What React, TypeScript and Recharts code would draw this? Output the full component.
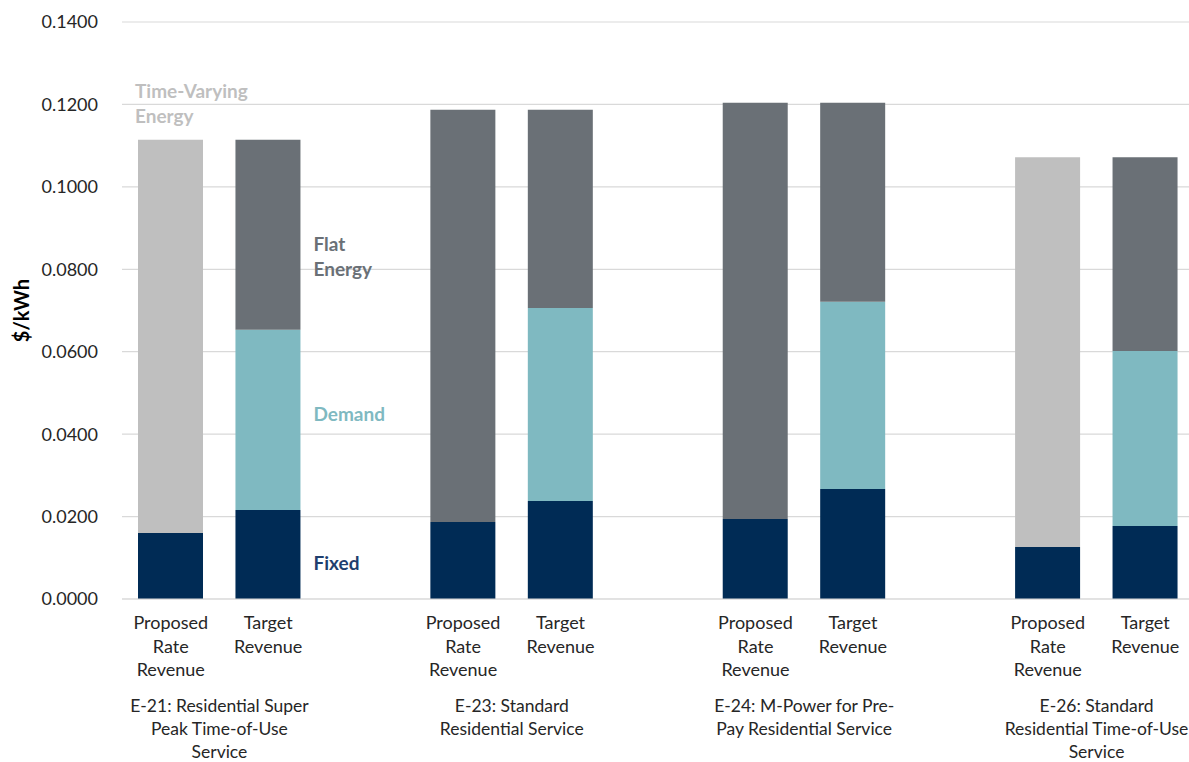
import { Bar, BarChart, CartesianGrid, LabelList, XAxis, YAxis } from "recharts";

const groups = [
  ["E-21: Residential Super", "Peak Time-of-Use", "Service"],
  ["E-23: Standard", "Residential Service"],
  ["E-24: M-Power for Pre-", "Pay Residential Service"],
  ["E-26: Standard", "Residential Time-of-Use", "Service"],
];
const barLabels = {
  P: ["Proposed", "Rate", "Revenue"],
  T: ["Target", "Revenue"],
};
// per group: [proposed, target]
const fixed = [
  [0.016, 0.0216],
  [0.0187, 0.0238],
  [0.0194, 0.0267],
  [0.0126, 0.0177],
];
const demand = [
  [0, 0.0437],
  [0, 0.0468],
  [0, 0.0454],
  [0, 0.0425],
];
const flatEnergy = [
  [0, 0.0461],
  [0.1, 0.0481],
  [0.101, 0.0483],
  [0, 0.047],
];
const timeVarying = [
  [0.0954, 0],
  [0, 0],
  [0, 0],
  [0.0946, 0],
];
const yTicks = [0, 0.02, 0.04, 0.06, 0.08, 0.1, 0.12, 0.14];

const COLORS = {
  fixed: "#002B55",
  demand: "#7FB9C1",
  flat: "#6A7076",
  tv: "#BFBFBF",
};
const FONT = "Lato, 'Open Sans', sans-serif";

const W = 1194;
const H = 762;
const Y_AXIS_W = 122;
const SLOT = (W - Y_AXIS_W) / 11;

type Row = {
  id: string;
  kind: "P" | "T" | "";
  group: number;
  fixed?: number;
  demand?: number;
  flat?: number;
  tv?: number;
};

const rows: Row[] = [];
groups.forEach((_, g) => {
  if (g > 0) rows.push({ id: `gap${g}`, kind: "", group: g });
  (["P", "T"] as const).forEach((k, i) => {
    rows.push({
      id: `${g}${k}`,
      kind: k,
      group: g,
      fixed: fixed[g][i] || undefined,
      demand: demand[g][i] || undefined,
      flat: flatEnergy[g][i] || undefined,
      tv: timeVarying[g][i] || undefined,
    });
  });
});

function CategoryTick(props: any) {
  const { x, y, index } = props;
  const row = rows[index];
  if (!row || !row.kind) return null;
  const lines = barLabels[row.kind];
  return (
    <g>
      {lines.map((l, i) => (
        <text key={i} x={x} y={y + 22 + i * 23.5} textAnchor="middle" fontFamily={FONT} fontSize={18} fill="#262626">
          {l}
        </text>
      ))}
      {row.kind === "P" &&
        groups[row.group].map((l, i) => (
          <text key={"g" + i} x={x + SLOT / 2} y={y + 105 + i * 23} textAnchor="middle" fontFamily={FONT} fontSize={17.5} fill="#262626">
            {l}
          </text>
        ))}
    </g>
  );
}

// index counts only the bars of that series that have a value
function seriesLabel(text: string[], color: string, at: number, mode: "right" | "above", dy: number) {
  return (props: any) => {
    const { x, y, width, height, index } = props;
    if (index !== at) return null;
    const tx = mode === "right" ? x + width + 13 : x - 3;
    const cy = mode === "right" ? y + height / 2 + dy : y + dy;
    return (
      <g>
        {text.map((t, i) => (
          <text key={i} x={tx} y={cy + i * 25 + 6} fontFamily={FONT} fontSize={19} fontWeight={700} fill={color}>
            {t}
          </text>
        ))}
      </g>
    );
  };
}

export default function App() {
  return (
    <div style={{ position: "absolute", left: 0, top: 0, width: 1189, height: H, overflow: "hidden", background: "#fff" }}>
      <BarChart width={W} height={H} data={rows} margin={{ top: 22, right: 0, bottom: 0, left: 0 }} barSize={65}>
        <CartesianGrid vertical={false} stroke="#D9D9D9" strokeWidth={1.2} />
        <XAxis
          dataKey="id"
          interval={0}
          height={H - 22 - 577}
          axisLine={{ stroke: "#D9D9D9" }}
          tickLine={false}
          tick={<CategoryTick />}
        />
        <YAxis
          width={Y_AXIS_W}
          domain={[0, 0.14]}
          ticks={yTicks}
          tickFormatter={(v: number) => v.toFixed(4)}
          axisLine={false}
          tickLine={false}
          tickMargin={18}
          tick={{ fontFamily: FONT, fontSize: 18, fill: "#262626" }}
          label={{
            value: "$/kWh",
            angle: -90,
            position: "insideLeft",
            offset: 22,
            style: { fontFamily: FONT, fontSize: 20, fontWeight: 700, fill: "#000", textAnchor: "middle" },
          }}
        />
        <Bar dataKey="fixed" stackId="a" fill={COLORS.fixed} isAnimationActive={false}>
          <LabelList content={seriesLabel(["Fixed"], "#1F3F6E", 1, "right", 10)} />
        </Bar>
        <Bar dataKey="demand" stackId="a" fill={COLORS.demand} isAnimationActive={false}>
          <LabelList content={seriesLabel(["Demand"], COLORS.demand, 0, "right", -5)} />
        </Bar>
        <Bar dataKey="flat" stackId="a" fill={COLORS.flat} isAnimationActive={false}>
          <LabelList content={seriesLabel(["Flat", "Energy"], COLORS.flat, 0, "right", 10)} />
        </Bar>
        <Bar dataKey="tv" stackId="a" fill={COLORS.tv} isAnimationActive={false}>
          <LabelList content={seriesLabel(["Time-Varying", "Energy"], COLORS.tv, 0, "above", -48)} />
        </Bar>
      </BarChart>
    </div>
  );
}
